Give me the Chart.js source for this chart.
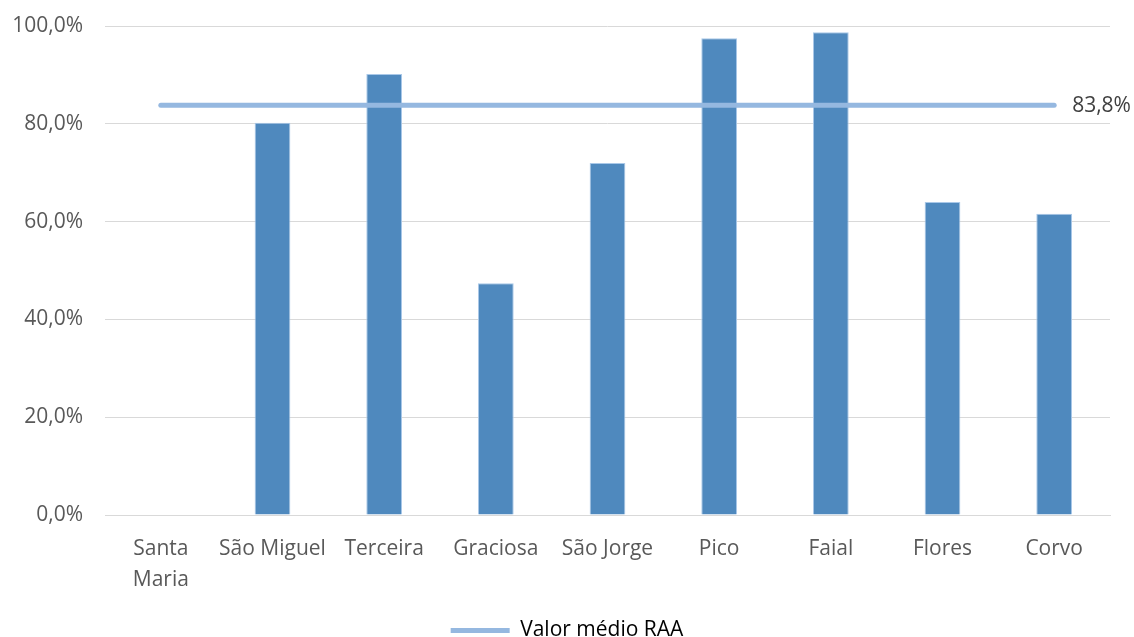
<!DOCTYPE html>
<html>
<head>
<meta charset="utf-8">
<script src="https://cdn.jsdelivr.net/npm/chart.js@4.4.1/dist/chart.umd.min.js"></script>
<style>
  html, body { margin: 0; padding: 0; background: #fff; }
  #wrap { width: 1134px; height: 637px; }
</style>
</head>
<body>
<div id="wrap"><canvas id="chart" width="1134" height="637"></canvas></div>
<script>
const islands = [['Santa', 'Maria'], 'São Miguel', 'Terceira', 'Graciosa', 'São Jorge', 'Pico', 'Faial', 'Flores', 'Corvo'];
const rates = [null, 80.2, 90.2, 47.4, 72.0, 97.5, 98.7, 64.0, 61.6];
const averageRAA = 83.8;
const averageLine = islands.map(() => averageRAA);
const yTicks = [0, 20, 40, 60, 80, 100];

const FONT = '"Open Sans", "Noto Sans", sans-serif';
const SIZE = 21;
const fmt = v => v.toFixed(1).replace('.', ',') + '%';

// label "83,8%" at the right end of the average line
const endLabel = {
  id: 'endLabel',
  afterDatasetsDraw(chart) {
    const meta = chart.getDatasetMeta(1);
    const last = meta.data[meta.data.length - 1];
    if (!last) return;
    const ctx = chart.ctx;
    ctx.save();
    ctx.font = SIZE + 'px ' + FONT;
    ctx.fillStyle = '#404040';
    ctx.textAlign = 'left';
    ctx.textBaseline = 'middle';
    ctx.fillText(fmt(averageRAA), last.x + 18, last.y + 1);
    ctx.restore();
  }
};

new Chart(document.getElementById('chart'), {
  type: 'bar',
  data: {
    labels: islands,
    datasets: [
      {
        label: 'Taxa',
        data: rates,
        backgroundColor: '#4f89be',
        borderColor: '#a9c8e8',
        borderWidth: 1,
        categoryPercentage: 1,
        barPercentage: 0.32,
        order: 2
      },
      {
        type: 'line',
        label: 'Valor médio RAA',
        data: averageLine,
        borderColor: '#95b8e0',
        backgroundColor: '#95b8e0',
        borderWidth: 5,
        borderCapStyle: 'round',
        pointRadius: 0,
        order: 1
      }
    ]
  },
  options: {
    responsive: false,
    animation: false,
    layout: { padding: { left: 0, right: 0, top: 26, bottom: -14 } },
    plugins: {
      tooltip: { enabled: false },
      legend: {
        position: 'bottom',
        labels: {
          generateLabels: chart => [{
            text: 'Valor médio RAA',
            fillStyle: '#95b8e0',
            strokeStyle: '#95b8e0',
            lineWidth: 0,
            datasetIndex: 1
          }],
          boxWidth: 59,
          boxHeight: 5,
          color: '#595959',
          font: { family: FONT, size: SIZE },
          padding: 2
        }
      }
    },
    scales: {
      x: {
        grid: { display: false, drawTicks: false },
        border: { display: true, color: '#d9d9d9', width: 1 },
        ticks: {
          color: '#595959',
          font: { family: FONT, size: SIZE, lineHeight: 1.45 },
          padding: 19,
          maxRotation: 0,
          autoSkip: false
        },
        afterFit: axis => { axis.height = 103; }
      },
      y: {
        min: 0,
        max: 100,
        afterBuildTicks: axis => { axis.ticks = yTicks.map(v => ({ value: v })); },
        grid: { color: '#d9d9d9', lineWidth: 1, drawTicks: false },
        border: { display: false },
        ticks: {
          color: '#595959',
          font: { family: FONT, size: SIZE },
          padding: 22,
          callback: v => fmt(v)
        },
        afterFit: axis => {
          axis.width = 105;
          axis.paddingTop = 13;
          axis.paddingBottom = 13;
        }
      },
      // empty right-hand strip so the plot stops where the reference does
      yRight: {
        position: 'right',
        grid: { display: false, drawTicks: false },
        border: { display: false },
        ticks: { display: false },
        afterFit: axis => {
          axis.width = 24;
          axis.paddingTop = 0;
          axis.paddingBottom = 0;
        }
      }
    }
  },
  plugins: [endLabel]
});
</script>
</body>
</html>
